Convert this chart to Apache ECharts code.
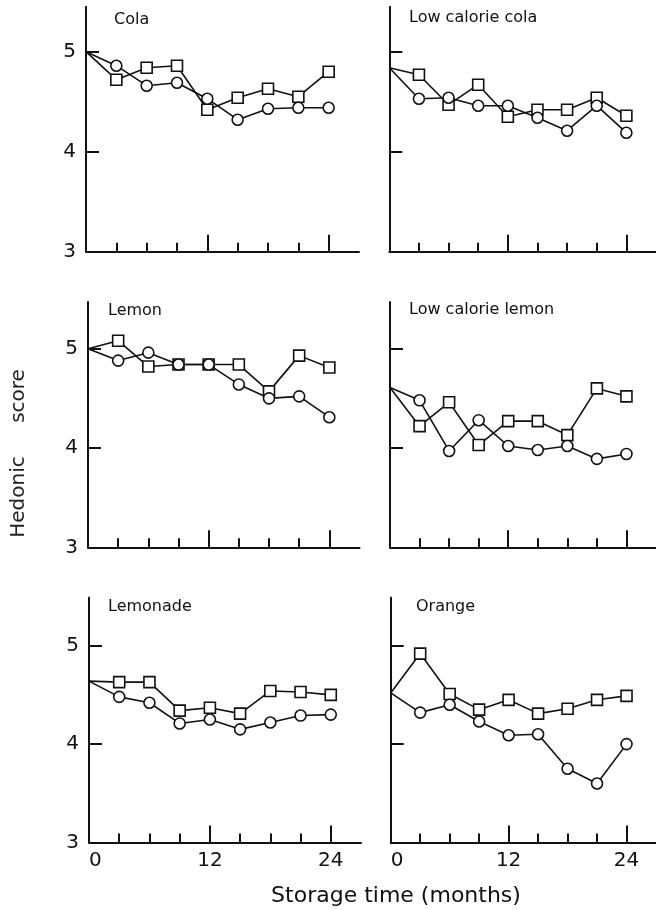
<!DOCTYPE html>
<html>
<head>
<meta charset="utf-8">
<script src="https://cdn.jsdelivr.net/npm/echarts@6/dist/echarts.min.js"></script>
<style>
  html, body { margin: 0; padding: 0; background: #ffffff; }
  #chart { width: 656px; height: 910px; }
</style>
</head>
<body>
<div id="chart"></div>
<script>
// Storage time points (months) and axis tick labels
const months = [0, 3, 6, 9, 12, 15, 18, 21, 24];
const xTickLabels = [0, 12, 24];
const yTickLabels = [3, 4, 5];
const panelNames = ['Cola', 'Low calorie cola', 'Lemon', 'Low calorie lemon', 'Lemonade', 'Orange'];

// Hedonic scores: circles and squares for each drink
const colaCircle = [5.00, 4.86, 4.66, 4.69, 4.53, 4.32, 4.43, 4.44, 4.44];
const colaSquare = [5.00, 4.72, 4.84, 4.86, 4.42, 4.54, 4.63, 4.55, 4.80];
const lowCalColaCircle = [4.84, 4.53, 4.54, 4.46, 4.46, 4.34, 4.21, 4.46, 4.19];
const lowCalColaSquare = [4.84, 4.77, 4.47, 4.67, 4.35, 4.42, 4.42, 4.54, 4.36];
const lemonCircle = [5.00, 4.88, 4.96, 4.84, 4.84, 4.64, 4.50, 4.52, 4.31];
const lemonSquare = [5.00, 5.08, 4.82, 4.84, 4.84, 4.84, 4.57, 4.93, 4.81];
const lowCalLemonCircle = [4.61, 4.48, 3.97, 4.28, 4.02, 3.98, 4.02, 3.89, 3.94];
const lowCalLemonSquare = [4.61, 4.22, 4.46, 4.03, 4.27, 4.27, 4.13, 4.60, 4.52];
const lemonadeCircle = [4.64, 4.48, 4.42, 4.21, 4.25, 4.15, 4.22, 4.29, 4.30];
const lemonadeSquare = [4.64, 4.63, 4.63, 4.34, 4.37, 4.31, 4.54, 4.53, 4.50];
const orangeCircle = [4.52, 4.32, 4.40, 4.23, 4.09, 4.10, 3.75, 3.60, 4.00];
const orangeSquare = [4.52, 4.92, 4.51, 4.35, 4.45, 4.31, 4.36, 4.45, 4.49];

const circleSets = [colaCircle, lowCalColaCircle, lemonCircle, lowCalLemonCircle, lemonadeCircle, orangeCircle];
const squareSets = [colaSquare, lowCalColaSquare, lemonSquare, lowCalLemonSquare, lemonadeSquare, orangeSquare];

// Panel placement (pixels) and vertical extent of each plot
const layout = [
  { left: 86,    top: 6.7, width: 273,   height: 245,   ymax: 5.45, tx: 114, ty: 20 },
  { left: 389.3, top: 6.7, width: 271,   height: 245,   ymax: 5.45, tx: 409, ty: 18 },
  { left: 88,    top: 302, width: 271.5, height: 245.3, ymax: 5.47, tx: 108, ty: 311 },
  { left: 390,   top: 302, width: 273,   height: 245.3, ymax: 5.47, tx: 409, ty: 310 },
  { left: 89,    top: 597.5, width: 272, height: 245,   ymax: 5.49, tx: 108, ty: 607 },
  { left: 390.7, top: 597.5, width: 274, height: 245,   ymax: 5.49, tx: 416, ty: 607 }
];

const INK = '#111111';
const FONT = 'DejaVu Sans';

const grid = [], xAxis = [], yAxis = [], series = [], graphic = [];

layout.forEach((p, i) => {
  const isLeft = i % 2 === 0;
  const isBottom = i >= 4;
  grid.push({ left: p.left, top: p.top, width: p.width, height: p.height });

  // main x axis: line, long ticks at 12 and 24, labels on bottom row
  xAxis.push({
    type: 'value', gridIndex: i, min: 0, max: 27, position: 'bottom',
    axisLine: { show: true, onZero: false, lineStyle: { color: INK, width: 2 } },
    axisTick: { show: true, inside: true, length: 17, customValues: [12, 24], lineStyle: { color: INK, width: 2 } },
    axisLabel: {
      show: isBottom, customValues: xTickLabels, margin: 8, alignMinLabel: 'left',
      color: INK, fontFamily: FONT, fontSize: 20
    },
    splitLine: { show: false }
  });
  // companion x axis carrying the short ticks every 3 months
  xAxis.push({
    type: 'value', gridIndex: i, min: 0, max: 27, position: 'bottom',
    axisLine: { show: false, onZero: false },
    axisTick: { show: true, inside: true, length: 9, customValues: [3, 6, 9, 15, 18, 21], lineStyle: { color: INK, width: 2 } },
    axisLabel: { show: false },
    splitLine: { show: false }
  });

  yAxis.push({
    type: 'value', gridIndex: i, min: 3, max: p.ymax,
    axisLine: { show: true, onZero: false, lineStyle: { color: INK, width: 2 } },
    axisTick: { show: true, inside: true, length: 13, customValues: [4, 5], lineStyle: { color: INK, width: 2 } },
    axisLabel: {
      show: isLeft, customValues: yTickLabels, margin: 10,
      color: INK, fontFamily: FONT, fontSize: 20
    },
    splitLine: { show: false }
  });

  const xIdx = i * 2;
  const sq = months.map((m, k) => [m, squareSets[i][k]]);
  const ci = months.map((m, k) => [m, circleSets[i][k]]);

  [sq, ci].forEach(d => {
    series.push({
      type: 'line', xAxisIndex: xIdx, yAxisIndex: i, data: d,
      showSymbol: false, symbol: 'none', z: 2,
      lineStyle: { color: INK, width: 1.6 }
    });
  });
  // the shared starting score sits on the axis without a marker
  series.push({
    type: 'scatter', xAxisIndex: xIdx, yAxisIndex: i, data: sq.slice(1), z: 3,
    symbol: 'rect', symbolSize: 11,
    itemStyle: { color: '#ffffff', borderColor: INK, borderWidth: 1.6, opacity: 1 }
  });
  series.push({
    type: 'scatter', xAxisIndex: xIdx, yAxisIndex: i, data: ci.slice(1), z: 4,
    symbol: 'circle', symbolSize: 11,
    itemStyle: { color: '#ffffff', borderColor: INK, borderWidth: 1.6, opacity: 1 }
  });

  graphic.push({
    type: 'text', x: p.tx, y: p.ty,
    style: { text: panelNames[i], fill: INK, font: '16px "' + FONT + '"', textAlign: 'left', textVerticalAlign: 'middle' }
  });
});

// shared axis titles
graphic.push({
  type: 'text', x: 396, y: 896,
  style: { text: 'Storage time (months)', fill: INK, font: '22px "' + FONT + '"', textAlign: 'center', textVerticalAlign: 'middle' }
});
graphic.push({
  type: 'text', x: 19, y: 497, rotation: Math.PI / 2,
  style: { text: 'Hedonic', fill: '#222222', font: '20px "' + FONT + '"', textAlign: 'center', textVerticalAlign: 'middle' }
});
graphic.push({
  type: 'text', x: 19, y: 396, rotation: Math.PI / 2,
  style: { text: 'score', fill: '#222222', font: '20px "' + FONT + '"', textAlign: 'center', textVerticalAlign: 'middle' }
});

const chart = echarts.init(document.getElementById('chart'), null, { renderer: 'canvas' });
chart.setOption({
  backgroundColor: '#ffffff',
  animation: false,
  grid, xAxis, yAxis, series, graphic
});
</script>
</body>
</html>
